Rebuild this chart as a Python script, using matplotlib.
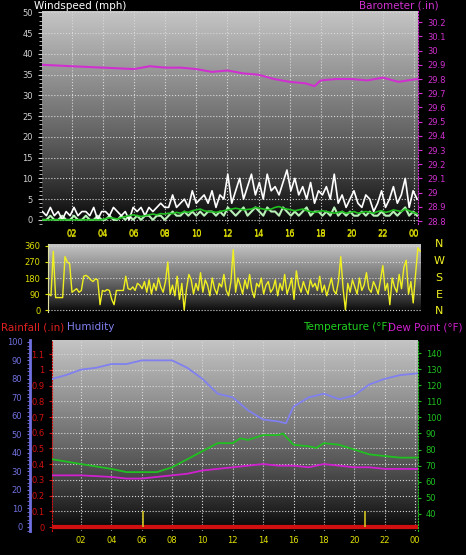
import numpy as np
import matplotlib
matplotlib.use("Agg")
import matplotlib.pyplot as plt

# ---------------- data ----------------
baro_h = [0.1, 2, 4, 6, 7, 8, 9, 10, 11, 12, 13, 14, 15, 16, 17, 17.6, 18, 19, 20, 21, 22, 23, 24.2]
baro_v = [29.90, 29.89, 29.88, 29.87, 29.89, 29.88, 29.88, 29.87, 29.85, 29.86, 29.84, 29.83, 29.80,
          29.78, 29.77, 29.75, 29.79, 29.80, 29.80, 29.79, 29.81, 29.78, 29.80]

gust = [2,1,3,1,2,0,2,1, 3,1,2,2,1,3,0,2, 2,1,3,2,1,2,0,3, 2,3,1,3,2,3,4,3,
        3,6,3,4,5,3,7,4, 5,6,4,7,3,6,5,11, 4,7,10,5,8,11,6,9, 5,11,7,8,6,9,12,7,
        10,6,8,5,9,4,7,6, 8,5,11,4,6,3,5,7, 4,3,6,5,2,4,7,3, 5,8,4,6,10,3,7,5]
wind_lo = [0,0,1,0,0,1,0,0, 1,0,0,1,0,0,1,0, 0,1,0,0,1,0,1,0, 1,0,1,1,0,1,1,0,
           1,2,1,1,2,1,2,1, 2,1,2,2,1,2,1,3, 2,1,2,3,1,2,3,2, 1,3,2,2,1,3,2,1,
           2,1,2,3,1,2,2,1, 2,1,3,1,2,1,2,1, 1,2,1,2,1,1,2,1, 1,2,1,2,3,1,2,1]
wind_avg = [0,0,0,0,0,0,0,0, 0,0,0,0,0,0,0,0, 0.3,0.5,0.4,0.2,0.5,0.8,1,1.2, 1,0.8,1,1.2,1.4,1.2,1.5,1.4,
            1.6,1.5,1.8,1.6,2,1.8,2.2,2.4, 2.6,2.2,2,2,1.8,2,2.2,2.4, 2.6,2.8,2.6,2.4,2.5,2.6,3,2.8,
            2.6,2.4,2.6,3,3.2,2.8,2.6,2.4, 2.2,2.4,2.6,2.2,2,1.8,2,2.2, 2,1.8,1.6,1.8,2,1.6,1.8,2,
            1.6,1.8,2,1.8,1.6,2,2.2,1.8, 2,2.4,2.2,2,2.6,2.2,1.8,1.5]

wdir = [90,80,330,70,70,70,70,300,270,260,100,110,120,100,110,190,195,185,170,160,
        175,170,30,110,105,115,110,60,30,110,110,110,110,190,120,115,130,110,150,140,
        120,160,100,170,90,150,110,180,130,100,160,270,90,140,80,190,60,150,0,120,
        200,170,90,150,110,210,100,170,140,80,180,120,90,150,130,200,110,80,160,340,
        100,180,140,90,170,120,200,110,70,150,130,180,90,140,160,100,120,170,80,150,
        110,200,90,130,180,60,220,140,100,160,120,90,170,130,150,110,190,100,140,80,
        130,180,110,90,160,300,120,0,150,100,170,130,90,180,110,140,210,120,100,160,
        130,90,170,250,110,150,30,180,130,100,200,120,240,280,90,160,40,200,350,330]

temp_h = [0.1,2,4,5,6,7,8,9,10,11,12,12.5,13,14,15,15.3,16,17,17.5,18,19,20,21,22,23,24.2]
temp_v = [74,71,68,66,66,66,69,74,79,84,84,87,86,89,89,90,83,82,81,84,83,80,77,76,75,75]
dew_h = [0.1,2,4,5,6,7,8,9,10,11,12,13,14,15,16,17,18,19,20,21,22,23,24.2]
dew_v = [64,64,63,62,62,63,64,65,67,68,69,70,71,70,70,69,71,70,69,69,68,68,68]
hum_h = [0.1,1,2,3,4,5,6,7,8,9,10,11,12,13,14,15,15.5,16,17,18,19,20,21,22,23,24.2]
hum_v = [80,82,85,86,88,88,90,90,90,86,80,72,70,63,58,57,56,65,70,72,69,71,77,80,82,83]
rain_marks = [6.1, 20.7]

xt = list(range(2, 25, 2))
xtl = ['02','04','06','08','10','12','14','16','18','20','22','00']

W, H = 466, 555
fig = plt.figure(figsize=(W/100, H/100), dpi=100, facecolor='black')

def grad(ax):
    g = np.linspace(0, 1, 256).reshape(-1, 1) ** 0.8
    ax.imshow(g, extent=[0, 1, 0, 1], transform=ax.transAxes, aspect='auto',
              cmap=matplotlib.colors.LinearSegmentedColormap.from_list('g', ['#000000', '#c4c4c4']),
              origin='lower', zorder=0)
    ax.set_facecolor('black')

def style(ax):
    for s in ax.spines.values():
        s.set_visible(False)
    ax.grid(True, color='#d8d8d8', linestyle=':', linewidth=0.8, zorder=1)
    ax.set_axisbelow(False)

tc = '#d0d0d0'
# ---------------- panel 1 ----------------
ax1 = fig.add_axes([42/W, 1-224/H, 376/W, 213/H])
grad(ax1); style(ax1)
xs = np.linspace(0.1, 24.2, len(gust))
ax1.plot(xs, wind_lo, color='#b8f0b8', lw=1.5, zorder=3)
ax1.plot(xs, gust, color='white', lw=1.2, zorder=4)
ax1.plot(xs, wind_avg, color='#20c020', lw=1.2, zorder=5)
ax1.set_xlim(0.07, 24.26); ax1.set_ylim(-1, 50.3)
ax1.set_yticks(range(0, 51, 5))
ax1.set_xticks(xt); ax1.set_xticklabels(xtl)
ax1.tick_params(axis='y', colors=tc, labelsize=6, length=3)
ax1.tick_params(axis='x', colors='#e0e000', labelsize=6, length=0)
ax1.yaxis.set_minor_locator(matplotlib.ticker.MultipleLocator(1))
ax1.tick_params(axis='y', which='minor', colors=tc, length=2)
ax1b = ax1.twinx()
ax1b.plot(baro_h, baro_v, color='#d030d0', lw=1.5, zorder=6)
ax1b.set_ylim(28.779, 30.279)
ax1b.set_yticks(np.round(np.arange(28.8, 30.25, 0.1), 1))
ax1b.set_yticklabels([f'{v:g}' for v in np.round(np.arange(28.8, 30.25, 0.1), 1)])
ax1b.tick_params(axis='y', colors='#d030d0', labelsize=6, length=3)
for s in ax1b.spines.values(): s.set_visible(False)
ax1b.spines['right'].set_visible(True); ax1b.spines['right'].set_color('#d030d0')
ax1b.spines['right'].set_linestyle(':')
fig.text(34/W, 1-6/H, 'Windspeed (mph)', color='white', fontsize=7.5, va='center')
fig.text(439/W, 1-6/H, 'Barometer (.in)', color='#d030d0', fontsize=7.5, va='center', ha='right')

# ---------------- panel 2 ----------------
ax2 = fig.add_axes([48/W, 1-312/H, 373/W, 68/H])
grad(ax2); style(ax2)
ax2.grid(axis='x', visible=False)
xd = np.linspace(0.5, 24.4, len(wdir))
ax2.plot(xd, wdir, color='#f0f020', lw=1, zorder=3)
ax2.set_xlim(0.46, 24.45); ax2.set_ylim(-11, 371)
ax2.set_yticks([0, 90, 180, 270, 360])
ax2.set_xticks(xt); ax2.set_xticklabels(xtl)
ax2.xaxis.tick_top()
ax2.tick_params(axis='y', colors='#e0e000', labelsize=6, length=2)
ax2.tick_params(axis='x', colors='#e0e000', labelsize=6, length=0)
ax2.spines['left'].set_visible(True); ax2.spines['left'].set_color('#e0e0a0')
for lab, yy in zip(['N', 'W', 'S', 'E', 'N'], [244, 261, 278, 295, 311]):
    fig.text(439/W, 1-yy/H, lab, color='#f0f020', fontsize=8, ha='center', va='center')

# ---------------- panel 3 ----------------
ax3 = fig.add_axes([52/W, 1-531/H, 366/W, 191/H])
grad(ax3); style(ax3)
ax3.set_xlim(0.09, 24.2); ax3.set_ylim(-0.025, 1.19)
ax3.axhline(0, color='#d01010', lw=3, zorder=4)
ax3.vlines(rain_marks, 0, 0.1, color='#d0c020', lw=1.2, zorder=5)
ax3.set_yticks(np.round(np.arange(0, 1.15, 0.1), 1))
ax3.set_yticklabels([f'{v:g}' for v in np.round(np.arange(0, 1.15, 0.1), 1)])
ax3.tick_params(axis='y', colors='#d01010', labelsize=6, length=2)
ax3.set_xticks(xt); ax3.set_xticklabels(xtl)
ax3.tick_params(axis='x', colors='#e0e000', labelsize=6, length=0)
ax3.spines['left'].set_visible(True); ax3.spines['left'].set_color('#d01010')
ax3.spines['left'].set_linestyle(':')

axh = ax3.twinx()
axh.yaxis.set_ticks_position('left')
for s in axh.spines.values(): s.set_visible(False)
axh.spines['left'].set_visible(True)
axh.spines['left'].set_position(('outward', 22*0.72))
axh.spines['left'].set_color('#7070e0'); axh.spines['left'].set_linewidth(2)
axh.plot(hum_h, hum_v, color='#8080f0', lw=1.3, zorder=6)
axh.set_ylim(-2.2, 101)
axh.set_yticks(range(0, 101, 10))
axh.yaxis.set_minor_locator(matplotlib.ticker.MultipleLocator(2))
axh.tick_params(axis='y', which='both', colors='#7070e0', labelsize=6, length=2)

axt = ax3.twinx()
for s in axt.spines.values(): s.set_visible(False)
axt.spines['right'].set_visible(True); axt.spines['right'].set_color('#20c020')
axt.spines['right'].set_linestyle(':')
axt.plot(temp_h, temp_v, color='#20c020', lw=1.3, zorder=6)
axt.plot(dew_h, dew_v, color='#d020d0', lw=1.3, zorder=6)
axt.set_ylim(29.4, 148.1)
axt.set_yticks(range(40, 141, 10))
axt.tick_params(axis='y', colors='#20c020', labelsize=6, length=2)

fig.text(1/W, 1-327/H, 'Rainfall (.in)', color='#e02020', fontsize=7.5, va='center')
fig.text(67/W, 1-327/H, 'Humidity', color='#8080f0', fontsize=7.5, va='center')
fig.text(391/W, 1-327/H, 'Temperature (°F)', color='#20d020', fontsize=7.5, va='center', ha='right')
fig.text(463/W, 1-327/H, 'Dew Point (°F)', color='#d020d0', fontsize=7.5, va='center', ha='right')

fig.savefig('out.png', dpi=100, facecolor='black')
